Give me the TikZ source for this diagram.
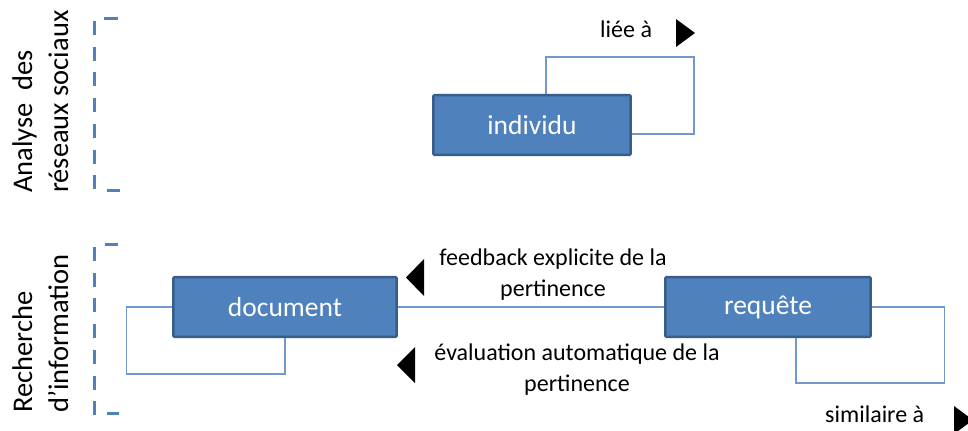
\documentclass[tikz,border=0pt]{standalone}
\usepackage{fontspec}
\setmainfont{Carlito}
\usetikzlibrary{calc}
\definecolor{boxfill}{HTML}{4F81BD}
\definecolor{boxdraw}{HTML}{385D8A}
\definecolor{connc}{HTML}{7199CF}
\definecolor{dashc}{HTML}{4F81BD}
\tikzset{
  box/.style={draw=boxdraw, fill=boxfill, line width=2.4bp, rounded corners=1bp,
    text=white, font=\fontsize{27.5bp}{33bp}\selectfont, inner sep=0pt},
  conn/.style={draw=connc, line width=1.3bp},
  lbl/.style={font=\fontsize{24bp}{31bp}\selectfont, inner sep=0pt, text=black},
  side/.style={font=\fontsize{28.5bp}{34bp}\selectfont, inner sep=0pt, rotate=90, anchor=base west},
  dashline/.style={draw=dashc, line width=3bp, dash pattern=on 14bp off 11.7bp},
  tick/.style={draw=dashc, line width=3bp},
  tri/.style={fill=black}
}
\begin{document}
\begin{tikzpicture}[x=1bp,y=-1bp]
\useasboundingbox (0,0) rectangle (968,430);
% side labels
\node[side] (t1a) at (32,193) {Analyse\ \ des};
\node[side] (t1b) at (68,193) {réseaux sociaux};
\node[side] (t2a) at (32,413) {Recherche};
\node[side] (t2b) at (68,413) {d’information};
% dashed brackets
\draw[dashline] (94,21) -- (94,190);
\draw[tick] (104,18) -- (118,18);
\draw[tick] (107,190) -- (120,190);
\draw[dashline] (94,247) -- (94,415);
\draw[tick] (105,244) -- (118,244);
\draw[tick] (107,413) -- (119,413);
% boxes
\node[box, minimum width=198, minimum height=60] (ind) at (532,125) {individu};
\node[box, minimum width=224, minimum height=60] (doc) at (285,307) {document};
\node[box, minimum width=206, minimum height=60] (req) at (768,307) {requête};
% connectors
\draw[conn] ([xshift=14bp]ind.north) |- (694,57) coordinate (c1) |- (ind.east |- 0,134);
\draw[conn] (doc.east) -- (req.west);
\draw[conn] (doc.west) -- ++(-46,0) coordinate (c2) |- (doc.south |- 0,374) -- (doc.south);
\draw[conn] (req.east) -- ++(73,0) coordinate (c3) |- (796,383) coordinate (c4) -- (c4 |- req.south);
% labels
\node[lbl, anchor=base west] (l1) at (600,37) {liée à};
\node[lbl, anchor=north, align=center] (l2) at (553,249) {feedback explicite de la\\pertinence};
\node[lbl, anchor=north, align=center] (l3) at (577,344) {évaluation automatique de la\\pertinence};
\node[lbl, anchor=base west] (l4) at (825,422) {similaire à};
% triangles
\fill[tri] (676,19) -- (676,47) -- (695,33) -- cycle;
\fill[tri] (424,259) -- (424,296) -- (406,277.5) -- cycle;
\fill[tri] (415,347) -- (415,383) -- (397,365) -- cycle;
\fill[tri] (954,406) -- (954,434) -- (973,420) -- cycle;
\end{tikzpicture}
\end{document}
